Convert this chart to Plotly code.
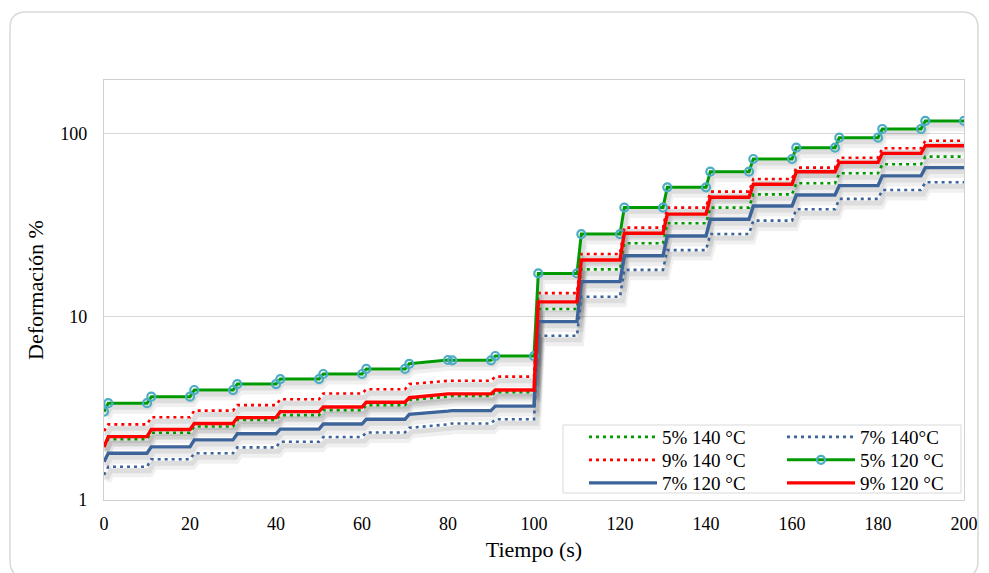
import plotly.graph_objects as go

# ---------------- data ----------------
TIME = [0, 1, 10, 11, 20, 21, 30, 31, 40, 41, 50, 51, 60, 61, 70, 71, 80, 81, 90, 91,
        100, 101, 110, 111, 120, 121, 130, 131, 140, 141, 150, 151, 160, 161, 170, 171,
        180, 181, 190, 191, 200]

S5_140 = [1.95, 2.15, 2.15, 2.33, 2.33, 2.52, 2.52, 2.74, 2.74, 2.91, 2.91, 3.10, 3.10,
          3.30, 3.30, 3.52, 3.67, 3.70, 3.70, 3.88, 3.88, 11.06, 11.06, 18.2, 18.2,
          25.3, 25.3, 32.5, 32.5, 39.6, 39.6, 46.8, 46.8, 53.8, 53.8, 61.0, 61.0,
          68.3, 68.3, 75.2, 75.2]
S7_140 = [1.37, 1.52, 1.52, 1.67, 1.67, 1.80, 1.80, 1.94, 1.94, 2.08, 2.08, 2.21, 2.21,
          2.34, 2.34, 2.48, 2.59, 2.62, 2.62, 2.76, 2.76, 7.9, 7.9, 12.9, 12.9,
          18.1, 18.1, 23.2, 23.2, 28.4, 28.4, 33.6, 33.6, 38.8, 38.8, 44.2, 44.2,
          49.4, 49.4, 54.5, 54.5]
S9_140 = [2.38, 2.59, 2.59, 2.83, 2.83, 3.08, 3.08, 3.30, 3.30, 3.55, 3.55, 3.82, 3.82,
          4.03, 4.03, 4.30, 4.48, 4.48, 4.48, 4.72, 4.72, 13.5, 13.5, 22.1, 22.1,
          30.8, 30.8, 39.6, 39.6, 48.4, 48.4, 56.8, 56.8, 65.5, 65.5, 74.2, 74.2,
          83.5, 83.5, 91.9, 91.9]
S5_120 = [3.04, 3.38, 3.38, 3.67, 3.67, 3.99, 3.99, 4.30, 4.30, 4.58, 4.58, 4.88, 4.88,
          5.20, 5.20, 5.55, 5.82, 5.80, 5.80, 6.12, 6.12, 17.3, 17.3, 28.4, 28.4,
          39.6, 39.6, 51.1, 51.1, 62.2, 62.2, 73.0, 73.0, 84.2, 84.2, 95.5, 95.5,
          106.5, 106.5, 117.8, 117.8]
S7_120 = [1.62, 1.80, 1.80, 1.95, 1.95, 2.13, 2.13, 2.30, 2.30, 2.44, 2.44, 2.60, 2.60,
          2.76, 2.76, 2.94, 3.06, 3.08, 3.08, 3.26, 3.26, 9.43, 9.43, 15.6, 15.6,
          21.6, 21.6, 27.7, 27.7, 34.2, 34.2, 40.4, 40.4, 46.4, 46.4, 52.2, 52.2,
          59.0, 59.0, 65.5, 65.5]
S9_120 = [1.95, 2.22, 2.22, 2.43, 2.43, 2.62, 2.62, 2.82, 2.82, 3.04, 3.04, 3.22, 3.22,
          3.42, 3.42, 3.62, 3.80, 3.80, 3.80, 3.99, 3.99, 12.1, 12.1, 20.5, 20.5,
          28.7, 28.7, 36.5, 36.5, 45.1, 45.1, 53.1, 53.1, 62.2, 62.2, 70.0, 70.0,
          78.4, 78.4, 86.3, 86.3]

NAMES = ["5% 140 °C", "7% 140°C", "9% 140 °C", "5% 120 °C", "7% 120 °C", "9% 120 °C"]
VALUES = [S5_140, S7_140, S9_140, S5_120, S7_120, S9_120]
X_TICKS = [0, 20, 40, 60, 80, 100, 120, 140, 160, 180, 200]
Y_TICKS = [1, 10, 100]

# ---------------- styles ----------------
GREEN = "#009a00"
RED = "#ff0000"
BLUE = "#3c6499"
TEAL = "#4bacc6"
FONT = "Liberation Serif, Times New Roman, DejaVu Serif, serif"
DOT = "3px,4px"

# legend rows: row 1 (legend), row 2 (legend2), row 3 (legend3); lw = entry width
STYLES = [
    dict(color=GREEN, dash=DOT, width=2.6, legend="legend", lw=115, marker=False),
    dict(color=BLUE, dash=DOT, width=2.6, legend="legend", lw=80, marker=False),
    dict(color=RED, dash=DOT, width=2.6, legend="legend2", lw=115, marker=False),
    dict(color=GREEN, dash="solid", width=3, legend="legend2", lw=80, marker=True),
    dict(color=BLUE, dash="solid", width=3.4, legend="legend3", lw=115, marker=False),
    dict(color=RED, dash="solid", width=3.4, legend="legend3", lw=80, marker=False),
]

W, H = 989, 573
ML, MR, MT, MB = 104, 25, 80, 73
PW, PH = W - ML - MR, H - MT - MB


def px_x(x):
    return (x - ML) / PW


def px_y(y):
    return (H - MB - y) / PH


fig = go.Figure()

# soft drop shadows under every line (Excel shadow effect)
for vals in VALUES:
    for shift_px, wid, alpha in [(6, 9, 0.06), (4, 5, 0.08)]:
        fac = 10 ** (-shift_px / 183.0)
        fig.add_trace(go.Scatter(
            x=[t + 0.6 for t in TIME], y=[v * fac for v in vals],
            mode="lines", line=dict(color=f"rgba(0,0,0,{alpha})", width=wid),
            showlegend=False, hoverinfo="skip"))

for name, vals, st in zip(NAMES, VALUES, STYLES):
    kw = dict(
        x=TIME, y=vals, name=name, legend=st["legend"], legendwidth=st["lw"],
        line=dict(color=st["color"], width=st["width"], dash=st["dash"]),
    )
    if st["marker"]:
        kw["mode"] = "lines+markers"
        kw["marker"] = dict(symbol="circle-open", size=8, color=TEAL,
                            line=dict(color=TEAL, width=2.2))
    else:
        kw["mode"] = "lines"
    fig.add_trace(go.Scatter(**kw))

# outer rounded frame
x0, y0, x1, y1, r = 10, 12, 978, 577, 16
path = (f"M {px_x(x0 + r)} {px_y(y0)} L {px_x(x1 - r)} {px_y(y0)} "
        f"Q {px_x(x1)} {px_y(y0)} {px_x(x1)} {px_y(y0 + r)} "
        f"L {px_x(x1)} {px_y(y1 - r)} Q {px_x(x1)} {px_y(y1)} {px_x(x1 - r)} {px_y(y1)} "
        f"L {px_x(x0 + r)} {px_y(y1)} Q {px_x(x0)} {px_y(y1)} {px_x(x0)} {px_y(y1 - r)} "
        f"L {px_x(x0)} {px_y(y0 + r)} Q {px_x(x0)} {px_y(y0)} {px_x(x0 + r)} {px_y(y0)} Z")

shapes = [
    dict(type="path", xref="paper", yref="paper", path=path,
         line=dict(color="#d9d9d9", width=1.5), layer="below"),
    dict(type="rect", xref="paper", yref="paper",
         x0=px_x(563), x1=px_x(961), y0=px_y(425), y1=px_y(493),
         line=dict(color="#d9d9d9", width=1), fillcolor="white", layer="above"),
]

legend_common = dict(
    font=dict(family=FONT, size=19, color="black"),
    bgcolor="rgba(0,0,0,0)", borderwidth=0, itemwidth=68,
    orientation="h", xanchor="left", yanchor="middle",
    entrywidthmode="pixels",
    itemclick=False, itemdoubleclick=False,
)

fig.update_layout(
    width=W, height=H,
    margin=dict(l=ML, r=MR, t=MT, b=MB, autoexpand=False),
    paper_bgcolor="white", plot_bgcolor="white",
    font=dict(family=FONT, size=18, color="black"),
    shapes=shapes,
    legend=dict(x=px_x(584), y=px_y(437), **legend_common),
    legend2=dict(x=px_x(584), y=px_y(460), **legend_common),
    legend3=dict(x=px_x(584), y=px_y(483), **legend_common),
    xaxis=dict(
        range=[0, 200], tickvals=X_TICKS, showgrid=False, zeroline=False,
        showline=True, linecolor="#d0d0d0", linewidth=1.2, mirror=True,
        ticks="", ticklabelstandoff=7,
        tickfont=dict(family=FONT, size=18, color="black"),
        title=dict(text="Tiempo (s)", font=dict(family=FONT, size=22, color="black"),
                   standoff=8),
    ),
    yaxis=dict(
        type="log", range=[0, 2.295], tickvals=Y_TICKS, ticktext=["1", "10", "100"],
        showgrid=True, gridcolor="#d9d9d9", gridwidth=1.2, zeroline=False,
        showline=True, linecolor="#d0d0d0", linewidth=1.2, mirror=True,
        ticks="", ticklabelstandoff=12,
        tickfont=dict(family=FONT, size=18, color="black"),
        title=dict(text="Deformación %", font=dict(family=FONT, size=22, color="black"),
                   standoff=10),
    ),
)

fig.write_html("out.html")
